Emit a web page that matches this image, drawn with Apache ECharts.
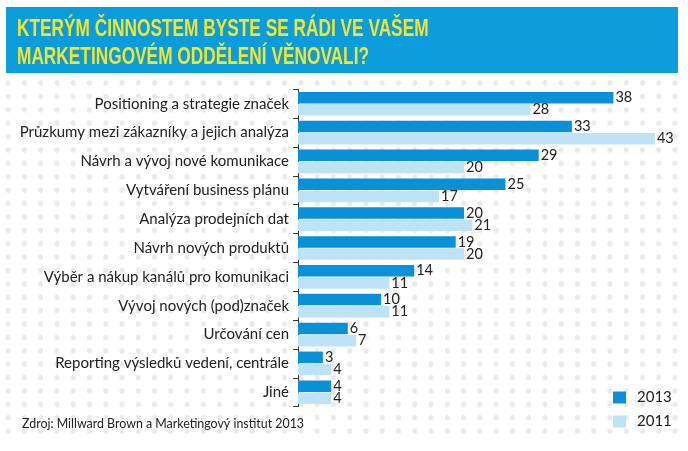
<!DOCTYPE html>
<html>
<head>
<meta charset="utf-8">
<script src="https://cdn.jsdelivr.net/npm/echarts@6/dist/echarts.min.js"></script>
<style>
  html, body { margin: 0; padding: 0; background: #ffffff; }
  #wrap { position: relative; width: 688px; height: 451px; }
  #dots {
    position: absolute; left: 0; top: 77px; width: 684px; height: 362px;
    background-image: radial-gradient(circle, #eaeaea 2.4px, rgba(255,255,255,0) 2.9px);
    background-size: 16.27px 13.4px;
    background-position: 0px -0.7px;
  }
  #chart { position: absolute; left: 0; top: 0; width: 688px; height: 451px; }
</style>
</head>
<body>
<div id="wrap">
  <div id="dots"></div>
  <div id="chart"></div>
</div>
<script>
const titleLines = ['KTERÝM ČINNOSTEM BYSTE SE RÁDI VE VAŠEM', 'MARKETINGOVÉM ODDĚLENÍ VĚNOVALI?'];
const sourceText = 'Zdroj: Millward Brown a Marketingový institut 2013';
const categories = [
  'Positioning a strategie značek',
  'Průzkumy mezi zákazníky a jejich analýza',
  'Návrh a vývoj nové komunikace',
  'Vytváření business plánu',
  'Analýza prodejních dat',
  'Návrh nových produktů',
  'Výběr a nákup kanálů pro komunikaci',
  'Vývoj nových (pod)značek',
  'Určování cen',
  'Reporting výsledků vedení, centrále',
  'Jiné'
];
const seriesNames = ['2013', '2011'];
const values2013 = [38, 33, 29, 25, 20, 19, 14, 10, 6, 3, 4];
const values2011 = [28, 43, 20, 17, 21, 20, 11, 11, 7, 4, 4];

const FONT = 'Lato';
const chart = echarts.init(document.getElementById('chart'), null, { renderer: 'canvas' });
const labelCfg = {
  show: true, position: 'right', distance: 2,
  color: '#222', fontFamily: FONT, fontSize: 14.5
};
chart.setOption({
  backgroundColor: 'transparent',
  animation: false,
  graphic: [
    { type: 'rect', shape: { x: 6, y: 7, width: 672, height: 66 }, style: { fill: '#0b9cdb' }, z: 0 },
    { type: 'text', x: 17, y: 16, scaleX: 0.72, z: 1, style: {
        text: titleLines.join('\n'), fill: '#f2e52b', lineHeight: 27.5,
        font: 'bold 24px "Liberation Sans"'
    } },
    { type: 'text', x: 22, y: 424, z: 1, style: {
        text: sourceText, fill: '#222', verticalAlign: 'middle',
        font: '12.4px ' + FONT
    } }
  ],
  legend: {
    orient: 'vertical', left: 613, top: 390, padding: 0,
    itemWidth: 13, itemHeight: 12, itemGap: 9, icon: 'rect',
    textStyle: { color: '#222', fontFamily: FONT, fontSize: 15, lineHeight: 12, padding: [0, 0, 0, 6] },
    data: seriesNames
  },
  grid: { left: 298, top: 89.3, width: 373.5, height: 317.4, containLabel: false },
  xAxis: {
    type: 'value', min: 0, max: 45, show: false
  },
  yAxis: {
    type: 'category', inverse: true, data: categories,
    axisLine: { show: true, lineStyle: { color: '#333', width: 1 } },
    axisTick: { show: true, length: 5, lineStyle: { color: '#333' } },
    axisLabel: { margin: 9, color: '#222', fontFamily: FONT, fontSize: 15 }
  },
  series: [
    { name: seriesNames[0], type: 'bar', data: values2013, barWidth: 11.5, barGap: '6%',
      itemStyle: { color: '#0a90d6' }, label: labelCfg },
    { name: seriesNames[1], type: 'bar', data: values2011, barWidth: 11.5, barGap: '6%',
      itemStyle: { color: '#bfe3f6' }, label: labelCfg }
  ]
});
</script>
</body>
</html>
